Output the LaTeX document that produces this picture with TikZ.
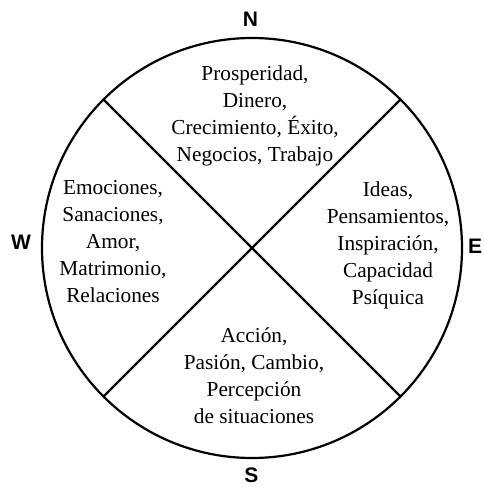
\documentclass[tikz,border=0pt]{standalone}
\usepackage{fontspec}
\setmainfont{Liberation Serif}
\newfontfamily\dirfont{Liberation Sans}
\begin{document}
\begin{tikzpicture}[x=1pt,y=-1pt,
  ring/.style={circle,draw,line width=2.2pt,inner sep=0pt,outer sep=0pt,minimum size=420pt},
  divider/.style={line width=2.2pt},
  quad/.style={align=center,font=\fontsize{21.3}{27}\selectfont,inner sep=0pt},
  dir/.style={font=\dirfont\bfseries\fontsize{21}{24}\selectfont,inner sep=0pt}]
\useasboundingbox (0,0) rectangle (483,487);
\node[ring] (c) at (252,248) {};
\draw[divider] (c.135) -- (c.-45);
\draw[divider] (c.45) -- (c.-135);
\node[quad] (top) at (255,116) {Prosperidad,\\Dinero,\\Crecimiento, Éxito,\\Negocios, Trabajo};
\node[quad] (right) at (388,245.5) {Ideas,\\Pensamientos,\\Inspiración,\\Capacidad\\Psíquica};
\node[quad] (left) at (113,241.5) {Emociones,\\Sanaciones,\\Amor,\\Matrimonio,\\Relaciones};
\node[quad] (bottom) at (254,376) {Acción,\\Pasión, Cambio,\\Percepción\\de situaciones};
\node[dir] (N) at (250.5,19.5) {N};
\node[dir] (S) at (251.5,475.5) {S};
\node[dir] (W) at (21,242.5) {W};
\node[dir,anchor=west] (E) at (468,246) {E};
\end{tikzpicture}
\end{document}
